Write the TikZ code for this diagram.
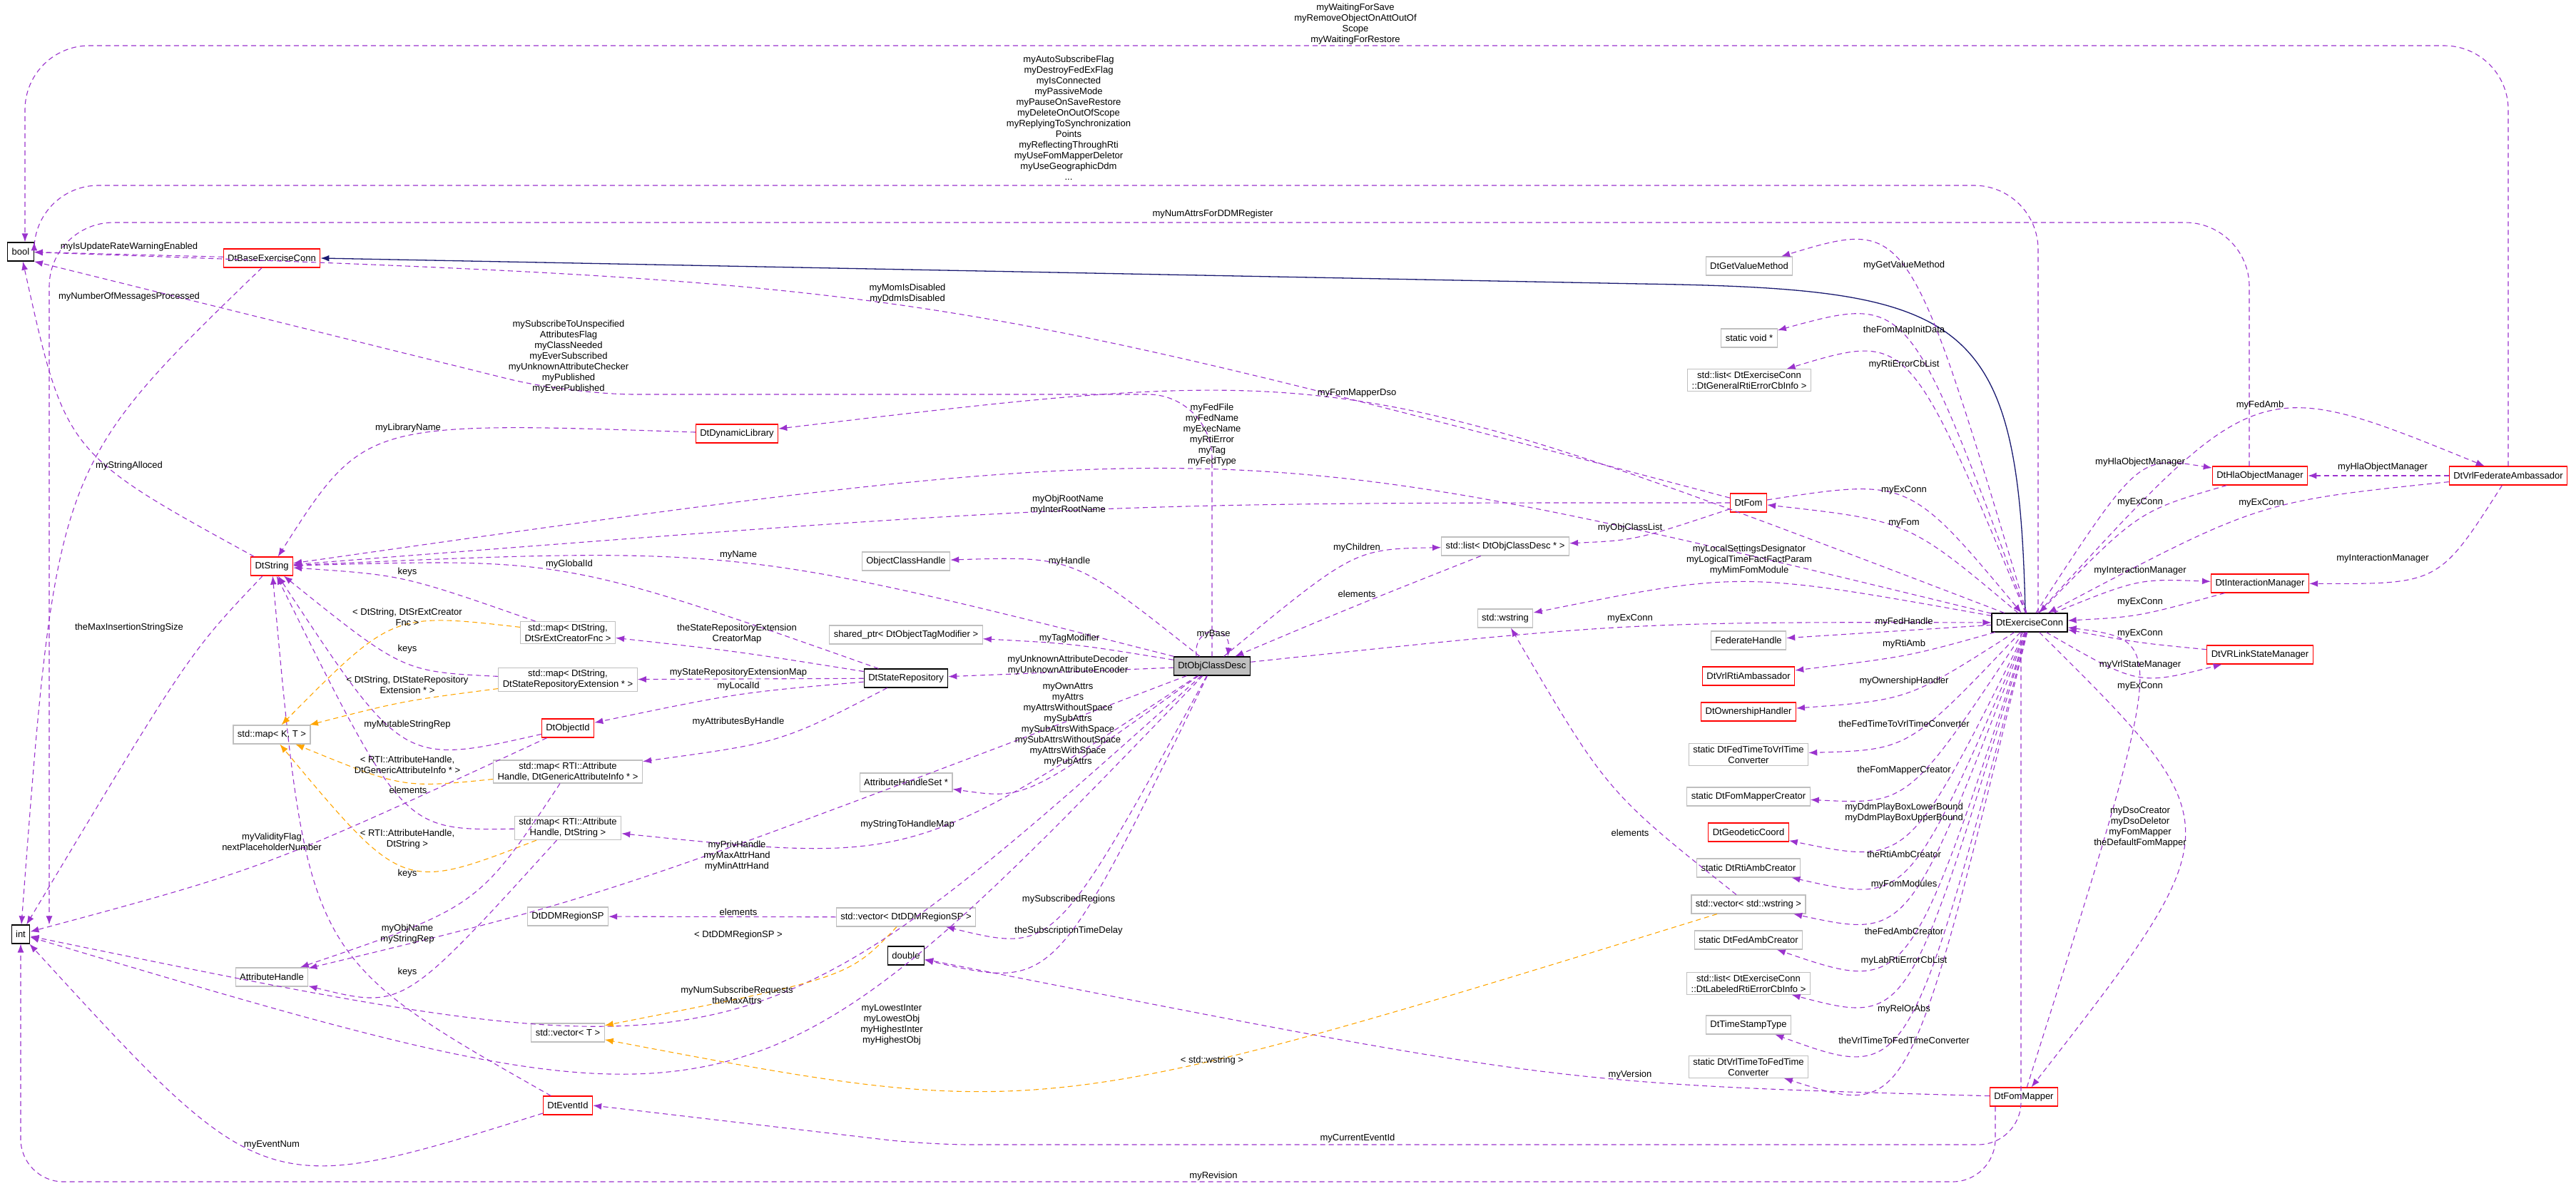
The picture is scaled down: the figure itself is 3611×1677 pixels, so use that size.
\documentclass[tikz,border=0pt]{standalone}
\usepackage{fontspec}
\setmainfont{Liberation Sans}
\usetikzlibrary{arrows.meta,calc}
\definecolor{depcol}{HTML}{9A32CD}
\definecolor{tmplcol}{HTML}{FFA500}
\definecolor{inhcol}{HTML}{191970}
\definecolor{boxgray}{HTML}{BFBFBF}
% curve from #2 to #4 that passes through #3
\newcommand{\viadraw}[4][dep]{\draw[#1] (#2) .. controls ($1.3333*(#3)-0.1667*(#2)-0.1667*(#4)$) .. (#4);}
\begin{document}
\begin{tikzpicture}
    [
    x=1pt,y=-1pt,
    every node/.style={font=\fontsize{13}{15}\selectfont},
    cls/.style={rectangle,draw=boxgray,line width=1.2pt,inner xsep=6pt,inner ysep=3pt,minimum height=26pt,align=center},
    known/.style={cls,draw=black},
    trunc/.style={cls,draw=red},
    self/.style={cls,draw=black,fill=boxgray},
    lbl/.style={inner sep=0pt,align=center},
    dep/.style={depcol,line width=1.1pt,dash pattern=on 7pt off 5pt,-{Latex[length=12pt,width=9pt]}},
    tmpl/.style={dep,tmplcol},
    inh/.style={inhcol,line width=1.3pt,{Latex[length=12pt,width=9pt]}-}
    ]
    \useasboundingbox (0,0) rectangle (3611,1677);
    % left part
    \node (bool) at (29,353) [known] {bool};
    \node (int) at (29,1310) [known] {int};
    \node (BaseExConn) at (381,362) [trunc] {DtBaseExerciseConn};
    \node (DtStr) at (381,794) [trunc] {DtString};
    \node (MapKT) at (381,1030) [cls] {std::map< K, T >};
    \node (AttrHandle) at (381,1370) [cls] {AttributeHandle};
    \node (DynLib) at (1033,608) [trunc] {DtDynamicLibrary};
    \node (MapSrExt) at (796,887) [cls] {std::map< DtString,\\DtSrExtCreatorFnc >};
    \node (MapSrExtN) at (796,953) [cls] {std::map< DtString,\\DtStateRepositoryExtension * >};
    \node (ObjId) at (796,1021) [trunc] {DtObjectId};
    \node (MapAttrInfo) at (796,1082) [cls] {std::map< RTI::Attribute\\Handle, DtGenericAttributeInfo * >};
    \node (MapAttrStr) at (796,1161) [cls] {std::map< RTI::Attribute\\Handle, DtString >};
    \node (DdmSP) at (796,1285) [cls] {DtDDMRegionSP};
    \node (VecT) at (796,1448) [cls] {std::vector< T >};
    \node (EventId) at (796,1550) [trunc] {DtEventId};
    % middle part
    \node (ObjClsHandle) at (1270,787) [cls] {ObjectClassHandle};
    \node (TagMod) at (1270,890) [cls] {shared\_ptr< DtObjectTagModifier >};
    \node (StateRepo) at (1270,951) [known] {DtStateRepository};
    \node (AttrHSet) at (1270,1097) [cls] {AttributeHandleSet *};
    \node (VecDdm) at (1270,1286) [cls] {std::vector< DtDDMRegionSP >};
    \node (Dbl) at (1270,1340) [known] {double};
    \node (ObjClassDesc) at (1699,934) [self] {DtObjClassDesc};
    \node (ClsList) at (2110,766) [cls] {std::list< DtObjClassDesc * >};
    \node (WStr) at (2110,867) [cls] {std::wstring};
    % right part
    \node (GetValue) at (2452,373) [cls] {DtGetValueMethod};
    \node (VoidPtr) at (2452,474) [cls] {static void *};
    \node (ErrList) at (2452,533) [cls] {std::list< DtExerciseConn\\::DtGeneralRtiErrorCbInfo >};
    \node (Fom) at (2451,705) [trunc] {DtFom};
    \node (FedHandle) at (2451,898) [cls] {FederateHandle};
    \node (RtiAmb) at (2451,948) [trunc] {DtVrlRtiAmbassador};
    \node (OwnHandler) at (2451,998) [trunc] {DtOwnershipHandler};
    \node (FedToVrl) at (2451,1058) [cls] {static DtFedTimeToVrlTime\\Converter};
    \node (MapperCreator) at (2451,1117) [cls] {static DtFomMapperCreator};
    \node (GeoCoord) at (2451,1167) [trunc] {DtGeodeticCoord};
    \node (RtiAmbCreator) at (2451,1217) [cls] {static DtRtiAmbCreator};
    \node (VecWStr) at (2451,1268) [cls] {std::vector< std::wstring >};
    \node (FedAmbCreator) at (2451,1318) [cls] {static DtFedAmbCreator};
    \node (LabErrList) at (2451,1379) [cls] {std::list< DtExerciseConn\\::DtLabeledRtiErrorCbInfo >};
    \node (TimeStamp) at (2451,1437) [cls] {DtTimeStampType};
    \node (VrlToFed) at (2451,1496) [cls] {static DtVrlTimeToFedTime\\Converter};
    \node (ExConn) at (2845,873) [known] {DtExerciseConn};
    \node (FomMapper) at (2837,1538) [trunc] {DtFomMapper};
    \node (HlaObjMgr) at (3168,667) [trunc] {DtHlaObjectManager};
    \node (InterMgr) at (3168,818) [trunc] {DtInteractionManager};
    \node (LinkStateMgr) at (3168,918) [trunc] {DtVRLinkStateManager};
    \node (FedAmb) at (3516,667) [trunc] {DtVrlFederateAmbassador};
    % long top connectors
    \draw[dep,rounded corners=90pt] (FedAmb.north) |- (1900,64) -| ([xshift=6pt]bool.north);
    \draw[dep,rounded corners=90pt] ([xshift=12pt]ExConn.north) |- (1500,260) -| (bool.north east);
    \draw[dep,rounded corners=90pt] ([xshift=-15pt]HlaObjMgr.north) |- (1700,312) -| ([xshift=40pt]int.north);
    \draw[inh] (BaseExConn.east) -- (2300,398) .. controls (2760,405) and (2830,440) .. ([xshift=-6pt]ExConn.north);
    \viadraw{Fom}{1272,430}{bool}
    \draw[dep,rounded corners=90pt] (ObjClassDesc.north) |- (800,553) -- (bool.south east);
    \draw[dep,rounded corners=60pt] ([xshift=-40pt]FomMapper.south) |- (1700,1657) -| (int.south);
    \draw[dep,rounded corners=60pt] ([xshift=-12pt]ExConn.south) |- (1300,1605) -- (EventId.east);
    % left connectors
    \draw[dep] (BaseExConn) -- (bool);
    \viadraw{BaseExConn}{110,700}{int}
    \viadraw{DtStr}{120,620}{bool}
    \viadraw{DtStr}{250,950}{int}
    \viadraw{DynLib}{560,618}{DtStr}
    \viadraw{ExConn}{1700,660}{DtStr}
    \viadraw{Fom}{1500,716}{DtStr}
    \viadraw{ExConn}{1900,565}{DynLib}
    \viadraw{ObjClassDesc}{1035,790}{DtStr}
    \viadraw{StateRepo}{800,805}{DtStr}
    \viadraw{MapSrExt}{571,815}{DtStr}
    \viadraw{MapSrExtN}{571,925}{DtStr}
    \viadraw{ObjId}{571,1032}{DtStr}
    \viadraw{MapAttrStr}{571,1118}{DtStr}
    \viadraw{EventId}{470,1300}{DtStr}
    \viadraw[tmpl]{MapSrExt}{560,884}{MapKT}
    \viadraw[tmpl]{MapSrExtN}{571,985}{MapKT}
    \viadraw[tmpl]{MapAttrInfo}{571,1093}{MapKT}
    \viadraw[tmpl]{MapAttrStr}{571,1212}{MapKT}
    \viadraw{ObjId}{381,1205}{int}
    \viadraw{MapAttrInfo}{650,1260}{AttrHandle}
    \viadraw{MapAttrStr}{571,1378}{AttrHandle}
    \viadraw{ObjClassDesc}{900,1230}{AttrHandle}
    \viadraw{ObjClassDesc}{1000,1420}{int}
    \viadraw{ObjClassDesc}{1000,1490}{int}
    \viadraw{EventId}{381,1620}{int}
    % middle connectors
    \viadraw{FomMapper}{2150,1500}{Dbl}
    \viadraw[tmpl]{VecWStr}{1500,1520}{VecT}
    \viadraw[tmpl]{VecDdm}{1150,1370}{VecT}
    \draw[dep] (VecDdm) -- (DdmSP);
    \viadraw{VecWStr}{2260,1100}{WStr}
    \viadraw{ObjClassDesc}{1480,1280}{VecDdm}
    \viadraw{ObjClassDesc}{1480,1325}{Dbl}
    \draw[dep] (ObjClassDesc) -- (StateRepo);
    \viadraw{ObjClassDesc}{1500,800}{ObjClsHandle}
    \viadraw{ObjClassDesc}{1500,905}{TagMod}
    \viadraw{ObjClassDesc}{1450,1095}{AttrHSet}
    \viadraw{ObjClassDesc}{1272,1170}{MapAttrStr}
    \viadraw{StateRepo}{1035,915}{MapSrExt}
    \draw[dep] (StateRepo) -- (MapSrExtN);
    \viadraw{StateRepo}{1035,975}{ObjId}
    \viadraw{StateRepo}{1080,1035}{MapAttrInfo}
    \draw[dep] ([xshift=-22pt]ObjClassDesc.north) .. controls +(-5,-45) and +(5,-45) .. ([xshift=22pt]ObjClassDesc.north);
    \viadraw{ObjClassDesc}{1900,790}{ClsList}
    \viadraw{ClsList}{1900,850}{ObjClassDesc}
    \viadraw{Fom}{2290,752}{ClsList}
    \viadraw{ObjClassDesc}{2280,880}{ExConn}
    \viadraw{ExConn}{2450,818}{WStr}
    % right connectors
    \viadraw{Fom}{2669,700}{ExConn}
    \viadraw{ExConn}{2669,745}{Fom}
    \viadraw{ExConn}{2669,385}{GetValue}
    \viadraw{ExConn}{2669,478}{VoidPtr}
    \viadraw{ExConn}{2669,525}{ErrList}
    \draw[dep] (ExConn) -- (FedHandle);
    \viadraw{ExConn}{2669,918}{RtiAmb}
    \viadraw{ExConn}{2669,970}{OwnHandler}
    \viadraw{ExConn}{2669,1030}{FedToVrl}
    \viadraw{ExConn}{2669,1095}{MapperCreator}
    \viadraw{ExConn}{2669,1165}{GeoCoord}
    \viadraw{ExConn}{2669,1212}{RtiAmbCreator}
    \viadraw{ExConn}{2669,1255}{VecWStr}
    \viadraw{ExConn}{2669,1320}{FedAmbCreator}
    \viadraw{ExConn}{2669,1360}{LabErrList}
    \viadraw{ExConn}{2669,1428}{TimeStamp}
    \viadraw{ExConn}{2669,1472}{VrlToFed}
    \viadraw{ExConn}{3000,672}{HlaObjMgr}
    \viadraw{HlaObjMgr}{3000,730}{ExConn}
    \viadraw{ExConn}{3168,585}{FedAmb}
    \viadraw{FedAmb}{3170,720}{ExConn}
    \draw[dep] (FedAmb) -- (HlaObjMgr);
    \viadraw{FedAmb}{3400,800}{InterMgr}
    \viadraw{ExConn}{3000,820}{InterMgr}
    \viadraw{InterMgr}{3000,860}{ExConn}
    \viadraw{LinkStateMgr}{3000,900}{ExConn}
    \viadraw{ExConn}{3000,945}{LinkStateMgr}
    \viadraw{FomMapper}{2990,975}{ExConn}
    \viadraw{ExConn}{3060,1170}{FomMapper}
    % connector labels
    \node (lWaiting) at (1900,34) [lbl] {myWaitingForSave\\myRemoveObjectOnAttOutOf\\Scope\\myWaitingForRestore};
    \node (lFlags) at (1498,165) [lbl] {myAutoSubscribeFlag\\myDestroyFedExFlag\\myIsConnected\\myPassiveMode\\myPauseOnSaveRestore\\myDeleteOnOutOfScope\\myReplyingToSynchronization\\Points\\myReflectingThroughRti\\myUseFomMapperDeletor\\myUseGeographicDdm\\...};
    \node (lNumAttrs) at (1700,300) [lbl] {myNumAttrsForDDMRegister};
    \node (lMom) at (1272,412) [lbl] {myMomIsDisabled\\myDdmIsDisabled};
    \node (lUpdRate) at (181,346) [lbl] {myIsUpdateRateWarningEnabled};
    \node (lNumMsg) at (181,416) [lbl] {myNumberOfMessagesProcessed};
    \node (lSubscr) at (797,500) [lbl] {mySubscribeToUnspecified\\AttributesFlag\\myClassNeeded\\myEverSubscribed\\myUnknownAttributeChecker\\myPublished\\myEverPublished};
    \node (lFomDso) at (1902,551) [lbl] {myFomMapperDso};
    \node (lLibName) at (572,600) [lbl] {myLibraryName};
    \node (lFedFile) at (1699,610) [lbl] {myFedFile\\myFedName\\myExecName\\myRtiError\\myTag\\myFedType};
    \node (lStrAlloc) at (181,653) [lbl] {myStringAlloced};
    \node (lRootName) at (1497,708) [lbl] {myObjRootName\\myInterRootName};
    \node (lClsList) at (2285,740) [lbl] {myObjClassList};
    \node (lChildren) at (1902,768) [lbl] {myChildren};
    \node (lElemCls) at (1902,833) [lbl] {elements};
    \node (lHandle) at (1499,787) [lbl] {myHandle};
    \node (lName) at (1035,778) [lbl] {myName};
    \node (lGlobalId) at (798,791) [lbl] {myGlobalId};
    \node (lKeys1) at (571,802) [lbl] {keys};
    \node (lMaxIns) at (181,880) [lbl] {theMaxInsertionStringSize};
    \node (lSrExt) at (571,865) [lbl] {< DtString, DtSrExtCreator\\Fnc >};
    \node (lSrCreator) at (1033,889) [lbl] {theStateRepositoryExtension\\CreatorMap};
    \node (lBase) at (1701,889) [lbl] {myBase};
    \node (lTagMod) at (1499,895) [lbl] {myTagModifier};
    \node (lKeys2) at (571,910) [lbl] {keys};
    \node (lUnknown) at (1497,933) [lbl] {myUnknownAttributeDecoder\\myUnknownAttributeEncoder};
    \node (lSrExtMap) at (1035,943) [lbl] {myStateRepositoryExtensionMap};
    \node (lSrExtN) at (571,960) [lbl] {< DtString, DtStateRepository\\Extension * >};
    \node (lLocalId) at (1035,962) [lbl] {myLocalId};
    \node (lOwnAttrs) at (1497,1016) [lbl] {myOwnAttrs\\myAttrs\\myAttrsWithoutSpace\\mySubAttrs\\mySubAttrsWithSpace\\mySubAttrsWithoutSpace\\myAttrsWithSpace\\myPubAttrs};
    \node (lMutable) at (571,1016) [lbl] {myMutableStringRep};
    \node (lAttrsBy) at (1035,1012) [lbl] {myAttributesByHandle};
    \node (lAttrInfo) at (571,1072) [lbl] {< RTI::AttributeHandle,\\DtGenericAttributeInfo * >};
    \node (lElemStr) at (572,1108) [lbl] {elements};
    \node (lStrToH) at (1272,1156) [lbl] {myStringToHandleMap};
    \node (lAttrStr) at (571,1177) [lbl] {< RTI::AttributeHandle,\\DtString >};
    \node (lValidity) at (381,1180) [lbl] {myValidityFlag\\nextPlaceholderNumber};
    \node (lPrivH) at (1033,1200) [lbl] {myPrivHandle\\myMaxAttrHand\\myMinAttrHand};
    \node (lKeys3) at (571,1225) [lbl] {keys};
    \node (lElemDdm) at (1035,1279) [lbl] {elements};
    \node (lObjName) at (571,1310) [lbl] {myObjName\\myStringRep};
    \node (lDdmT) at (1035,1311) [lbl] {< DtDDMRegionSP >};
    \node (lSubRegions) at (1498,1261) [lbl] {mySubscribedRegions};
    \node (lSubDelay) at (1498,1305) [lbl] {theSubscriptionTimeDelay};
    \node (lKeys4) at (571,1363) [lbl] {keys};
    \node (lNumSub) at (1033,1395) [lbl] {myNumSubscribeRequests\\theMaxAttrs};
    \node (lLowest) at (1250,1437) [lbl] {myLowestInter\\myLowestObj\\myHighestInter\\myHighestObj};
    \node (lWStrT) at (1699,1487) [lbl] {< std::wstring >};
    \node (lVersion) at (2285,1507) [lbl] {myVersion};
    \node (lEvId) at (1903,1596) [lbl] {myCurrentEventId};
    \node (lEvNum) at (381,1605) [lbl] {myEventNum};
    \node (lRevision) at (1701,1649) [lbl] {myRevision};
    \node (lExConnD) at (2285,867) [lbl] {myExConn};
    \node (lLocal) at (2452,785) [lbl] {myLocalSettingsDesignator\\myLogicalTimeFactFactParam\\myMimFomModule};
    \node (lElemW) at (2285,1168) [lbl] {elements};
    \node (lGetVal) at (2669,372) [lbl] {myGetValueMethod};
    \node (lInitData) at (2669,463) [lbl] {theFomMapInitData};
    \node (lRtiErr) at (2669,511) [lbl] {myRtiErrorCbList};
    \node (lExConnF) at (2669,687) [lbl] {myExConn};
    \node (lFom) at (2669,733) [lbl] {myFom};
    \node (lFedH) at (2669,872) [lbl] {myFedHandle};
    \node (lRtiAmb) at (2669,903) [lbl] {myRtiAmb};
    \node (lOwn) at (2669,955) [lbl] {myOwnershipHandler};
    \node (lFedToVrl) at (2669,1015) [lbl] {theFedTimeToVrlTimeConverter};
    \node (lMapperCr) at (2669,1080) [lbl] {theFomMapperCreator};
    \node (lPlayBox) at (2669,1140) [lbl] {myDdmPlayBoxLowerBound\\myDdmPlayBoxUpperBound};
    \node (lRtiAmbCr) at (2669,1198) [lbl] {theRtiAmbCreator};
    \node (lFomMod) at (2669,1240) [lbl] {myFomModules};
    \node (lFedAmbCr) at (2669,1306) [lbl] {theFedAmbCreator};
    \node (lLabErr) at (2669,1347) [lbl] {myLabRtiErrorCbList};
    \node (lRelAbs) at (2669,1415) [lbl] {myRelOrAbs};
    \node (lVrlToFed) at (2669,1459) [lbl] {theVrlTimeToFedTimeConverter};
    \node (lFedAmb) at (3168,568) [lbl] {myFedAmb};
    \node (lHlaMgr) at (3000,648) [lbl] {myHlaObjectManager};
    \node (lHlaMgr2) at (3340,655) [lbl] {myHlaObjectManager};
    \node (lExConnH) at (3000,704) [lbl] {myExConn};
    \node (lExConnV) at (3170,705) [lbl] {myExConn};
    \node (lInterMgr2) at (3340,783) [lbl] {myInteractionManager};
    \node (lInterMgr) at (3000,800) [lbl] {myInteractionManager};
    \node (lExConnI) at (3000,844) [lbl] {myExConn};
    \node (lExConnL) at (3000,888) [lbl] {myExConn};
    \node (lVrlState) at (3000,932) [lbl] {myVrlStateManager};
    \node (lExConnM) at (3000,962) [lbl] {myExConn};
    \node (lDso) at (3000,1160) [lbl] {myDsoCreator\\myDsoDeletor\\myFomMapper\\theDefaultFomMapper};
\end{tikzpicture}
\end{document}
